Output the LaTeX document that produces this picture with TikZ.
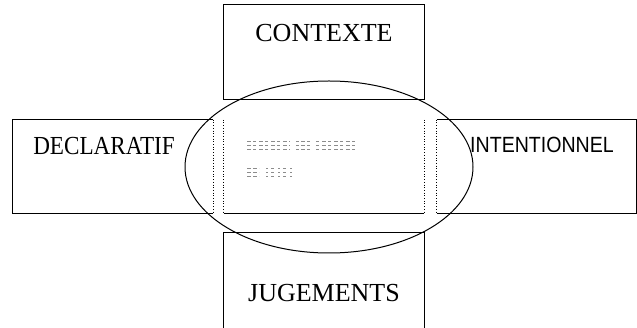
\documentclass[tikz,border=0pt]{standalone}
\usepackage{fontspec}
\setmainfont{Liberation Serif}
\newfontfamily\narrowsans{Liberation Sans}
\usetikzlibrary{shapes.geometric}

\begin{document}
\begin{tikzpicture}[x=1pt,y=-1pt]
\tikzstyle{box} = [rectangle, draw=none, inner sep=0pt]
\tikzstyle{heading} = [inner sep=0pt, anchor=base, font=\fontsize{26}{28}\selectfont]
\tikzstyle{border} = [draw=black, line width=0.9pt]
\tikzstyle{dots} = [draw=black, line width=0.9pt, dash pattern=on 1pt off 1.7pt]
\tikzstyle{smudge} = [draw=black!45, line width=0.9pt]

\useasboundingbox (0,0) rectangle (637,328);
\clip (0,0) rectangle (637,328);

% the four boxes
\node (ContexteBox) [box, minimum width=200pt, minimum height=94pt] at (324,52) {};
\node (DeclaratifBox) [box, minimum width=200pt, minimum height=93pt] at (113,166.5) {};
\node (IntentionnelBox) [box, minimum width=199pt, minimum height=93pt] at (536.5,166.5) {};
\node (JugementsBox) [box, minimum width=200pt, minimum height=107pt] at (324,286.5) {};
\node (Centre) [box, minimum width=200pt, minimum height=93pt] at (324,166.5) {};

\draw [border] (ContexteBox.north west) rectangle (ContexteBox.south east);
\draw [border] (JugementsBox.north west) rectangle (JugementsBox.south east);
\draw [border] (DeclaratifBox.north east) -- (DeclaratifBox.north west) -- (DeclaratifBox.south west) -- (DeclaratifBox.south east);
\draw [dots] (DeclaratifBox.north east) -- (DeclaratifBox.south east);
\draw [border] (IntentionnelBox.north west) -- (IntentionnelBox.north east) -- (IntentionnelBox.south east) -- (IntentionnelBox.south west);
\draw [dots] (IntentionnelBox.north west) -- (IntentionnelBox.south west);

% middle part
\draw [border] (Centre.south west) -- (Centre.south east);
\draw [dots] (Centre.north west) -- (Centre.south west);
\draw [dots] (Centre.north east) -- (Centre.south east);

% labels
\node (Contexte) [heading] at (324,42) {CONTEXTE};
\node (Declaratif) [heading, xscale=0.89] at (104,155) {DECLARATIF};
\node (Intentionnel) [heading, xscale=0.89, font=\narrowsans\fontsize{22}{24}\selectfont] at (542,153) {INTENTIONNEL};
\node (Jugements) [heading] at (324,302) {JUGEMENTS};

% faded lines of text in the middle
\foreach \y in {141,145,149} {
  \draw [smudge, dash pattern=on 4pt off 2pt on 3pt off 3pt] (247,\y) -- (290,\y);
  \draw [smudge, dash pattern=on 3pt off 2pt on 4pt off 2pt] (296,\y) -- (310,\y);
  \draw [smudge, dash pattern=on 3pt off 3pt on 4pt off 2pt] (316,\y) -- (355,\y);
}
\foreach \y in {168,172,176} {
  \draw [smudge, dash pattern=on 4pt off 2pt] (247,\y) -- (259,\y);
  \draw [smudge, dash pattern=on 2pt off 3pt on 3pt off 4pt] (266,\y) -- (292,\y);
}

% the ellipse over the middle
\node (Noyau) [ellipse, draw=black, line width=1pt, minimum width=288pt, minimum height=172pt, inner sep=0pt] at (329,167) {};

\end{tikzpicture}
\end{document}
